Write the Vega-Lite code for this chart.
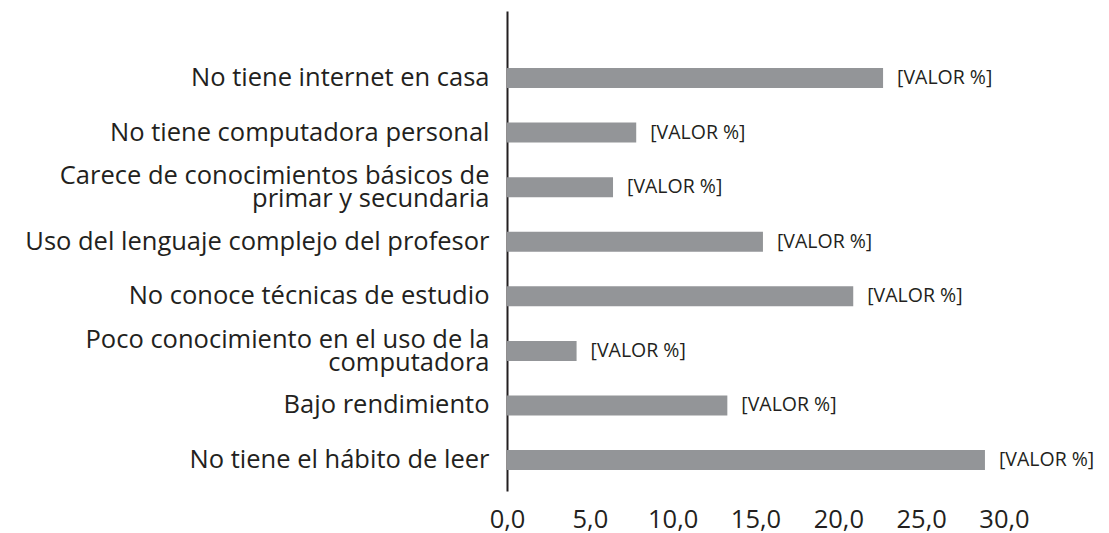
{
  "$schema": "https://vega.github.io/schema/vega-lite/v6.json",
  "autosize": {"type": "none"},
  "padding": {"left": 507, "top": 11, "right": 105, "bottom": 42},
  "width": 497,
  "height": 480,
  "background": "white",
  "config": {"view": {"stroke": null}, "font": "Open Sans"},
  "data": {"values": [
    {"cat": "No tiene internet en casa", "value": 22.7, "label": "[VALOR %]"},
    {"cat": "No tiene computadora personal", "value": 7.8, "label": "[VALOR %]"},
    {"cat": "Carece de conocimientos básicos de|primar y secundaria", "value": 6.4, "label": "[VALOR %]"},
    {"cat": "Uso del lenguaje complejo del profesor", "value": 15.45, "label": "[VALOR %]"},
    {"cat": "No conoce técnicas de estudio", "value": 20.9, "label": "[VALOR %]"},
    {"cat": "Poco conocimiento en el uso de la|computadora", "value": 4.2, "label": "[VALOR %]"},
    {"cat": "Bajo rendimiento", "value": 13.3, "label": "[VALOR %]"},
    {"cat": "No tiene el hábito de leer", "value": 28.85, "label": "[VALOR %]"}
  ]},
  "encoding": {
    "y": {
      "field": "cat", "type": "nominal", "sort": null, "title": null,
      "scale": {"paddingInner": 0.6335, "paddingOuter": 0.7147, "align": 0.731},
      "axis": {
        "domain": true, "domainColor": "#231f20", "domainWidth": 2,
        "ticks": false, "labelPadding": 18, "labelFontSize": 25.5,
        "labelColor": "#231f20", "labelFont": "Open Sans", "labelLimit": 0,
        "labelLineHeight": 23,
        "labelOffset": {"condition": {"test": "indexof(datum.value, '|') >= 0", "value": -11}, "value": 0},
        "labelExpr": "split(datum.label, '|')"
      }
    },
    "x": {
      "field": "value", "type": "quantitative", "title": null,
      "scale": {"domain": [0, 30], "nice": false},
      "axis": {
        "domain": false, "ticks": false, "grid": false,
        "values": [0, 5, 10, 15, 20, 25, 30],
        "labelPadding": 16, "labelFontSize": 25.5, "labelColor": "#231f20",
        "labelFont": "Open Sans", "labelOverlap": false, "labelFlush": false,
        "labelExpr": "replace(format(datum.value, '.1f'), '.', ',')"
      }
    }
  },
  "layer": [
    {"mark": {"type": "bar", "color": "#939598"}},
    {"mark": {"type": "text", "align": "left", "baseline": "middle", "dx": 14, "fontSize": 19.5, "color": "#231f20", "font": "Open Sans"},
     "encoding": {"text": {"field": "label"}}}
  ]
}
